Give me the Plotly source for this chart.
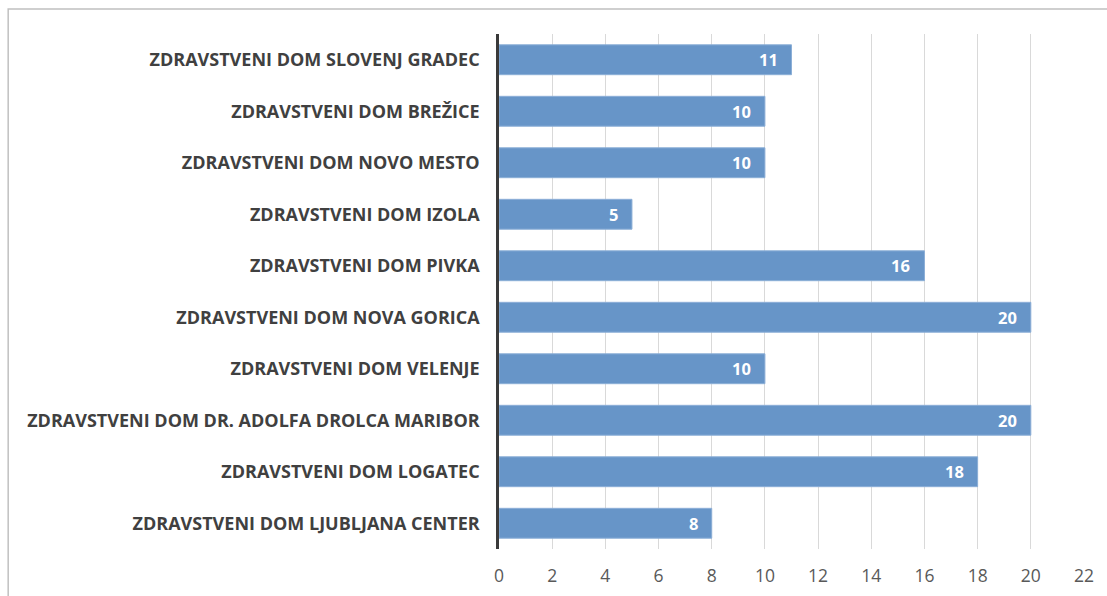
import plotly.graph_objects as go

categories = [
    "ZDRAVSTVENI DOM SLOVENJ GRADEC",
    "ZDRAVSTVENI DOM BREŽICE",
    "ZDRAVSTVENI DOM NOVO MESTO",
    "ZDRAVSTVENI DOM IZOLA",
    "ZDRAVSTVENI DOM PIVKA",
    "ZDRAVSTVENI DOM NOVA GORICA",
    "ZDRAVSTVENI DOM VELENJE",
    "ZDRAVSTVENI DOM DR. ADOLFA DROLCA MARIBOR",
    "ZDRAVSTVENI DOM LOGATEC",
    "ZDRAVSTVENI DOM LJUBLJANA CENTER",
]
values = [11, 10, 10, 5, 16, 20, 10, 20, 18, 8]
x_ticks = list(range(0, 23, 2))

bar_color = "rgb(103,149,200)"

fig = go.Figure()
fig.add_trace(go.Bar(
    y=categories,
    x=values,
    orientation="h",
    width=0.58,
    marker=dict(color=bar_color, line=dict(color="rgb(140,175,215)", width=1)),
    hoverinfo="x+y",
))

for c, v in zip(categories, values):
    fig.add_annotation(
        x=v, y=c, text=f"<b>{v}</b>", showarrow=False,
        xanchor="right", xshift=-12,
        font=dict(family="Open Sans", size=16.5, color="white"),
    )

fig.update_layout(
    width=1107, height=596,
    margin=dict(l=499, r=23, t=34, b=47, autoexpand=False),
    paper_bgcolor="white", plot_bgcolor="white",
    showlegend=False,
    bargap=0.42,
    xaxis=dict(
        range=[0, 22], tickvals=x_ticks, ticktext=[str(t) for t in x_ticks],
        showgrid=True, gridcolor="#d9d9d9", gridwidth=1.3,
        zeroline=False, showline=False, automargin=False,
        tickfont=dict(family="Open Sans", size=17.5, color="#595959"),
        ticks="", ticklen=0, ticklabelstandoff=14,
        fixedrange=True,
    ),
    yaxis=dict(
        categoryorder="array", categoryarray=categories,
        autorange="reversed", automargin=False,
        showline=True, linecolor="#3a3a3a", linewidth=2.5,
        showgrid=False, ticks="",
        ticklabelstandoff=13,
        tickfont=dict(family="Open Sans", size=18, color="#404040", weight="bold"),
    ),
    shapes=[dict(
        type="rect", xref="paper", yref="paper",
        x0=-0.839, x1=1.2, y0=-0.3, y1=1.0485,
        line=dict(color="#c0c0c0", width=1.5), fillcolor="rgba(0,0,0,0)", layer="below",
    )],
)

fig.write_html("out.html", config={"displayModeBar": False},
               post_script="document.body.style.margin='0';")
